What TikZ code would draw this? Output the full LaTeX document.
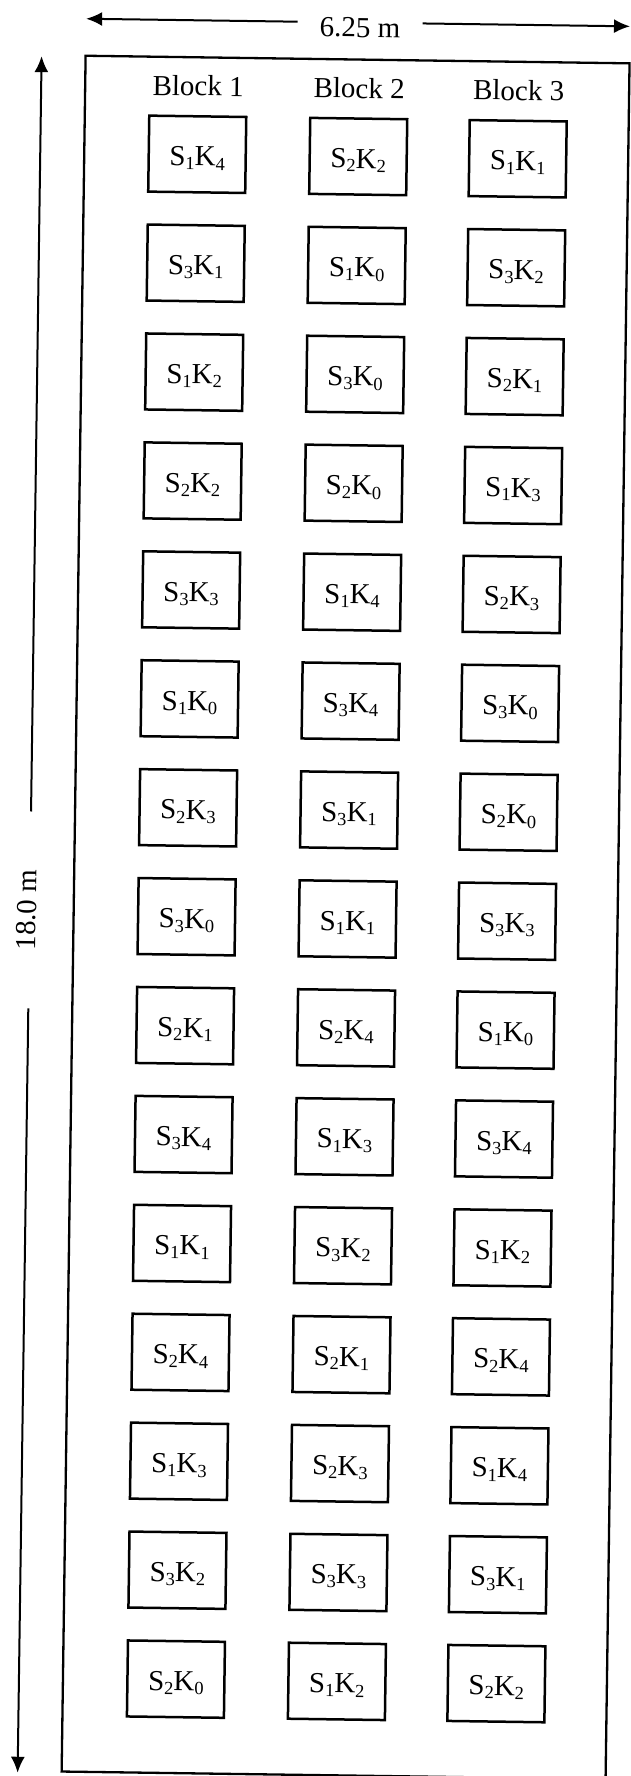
\documentclass[tikz,border=0pt]{standalone}
\usepackage{fontspec}
\setmainfont{Liberation Serif}
\usetikzlibrary{arrows.meta}
\newcommand\plotlab[2]{S\raisebox{-4pt}{\fontsize{18.5}{19}\selectfont #1}K\raisebox{-4pt}{\fontsize{18.5}{19}\selectfont #2}}
\begin{document}
\begin{tikzpicture}[x=1pt,y=-1pt,
  plotbox/.style={draw, line width=2.5pt, minimum width=97pt, minimum height=76pt,
    inner sep=0pt, text height=23pt, text depth=0pt,
    font=\fontsize{29}{33}\selectfont, transform shape},
  blk/.style={anchor=base, inner sep=0pt, font=\fontsize{29}{33}\selectfont, transform shape},
  dim/.style={line width=2pt, -{Latex[length=16pt,width=14pt]}},
  lbl/.style={font=\fontsize{29}{33}\selectfont, inner ysep=0pt, transform shape},
  frame/.style={line width=2.3pt}]
\useasboundingbox[fill=white] (0,0) rectangle (630,1776);
\begin{scope}[rotate around={-0.8:(315,888)}]
  % field outline
  \draw[frame] (74,59) rectangle (618,1775);
  % width dimension
  \coordinate (wA) at (74,22);
  \coordinate (wB) at (618,22);
  \node[lbl, anchor=base, inner xsep=22pt] (wl) at (348,36.5) {6.25 m};
  \draw[dim] (wl.west |- wA) -- (wA);
  \draw[dim] (wl.east |- wB) -- (wB);
  % length dimension
  \coordinate (hA) at (30,60);
  \coordinate (hB) at (30,1777);
  \node[lbl, rotate=90, inner xsep=58pt] (hl) at (27,914) {18.0 m};
  \draw[dim] (hl.east -| hA) -- (hA);
  \draw[dim] (hl.west -| hB) -- (hB);
  % block headings
  \node[blk] (b1) at (187,97.5) {Block 1};
  \node[blk] (b2) at (348,97.5) {Block 2};
  \node[blk] (b3) at (507.5,97.5) {Block 3};
  % plots
  \foreach \r/\sa/\ka/\sb/\kb/\sc/\kc in {
    1/1/4/2/2/1/1,
    2/3/1/1/0/3/2,
    3/1/2/3/0/2/1,
    4/2/2/2/0/1/3,
    5/3/3/1/4/2/3,
    6/1/0/3/4/3/0,
    7/2/3/3/1/2/0,
    8/3/0/1/1/3/3,
    9/2/1/2/4/1/0,
    10/3/4/1/3/3/4,
    11/1/1/3/2/1/2,
    12/2/4/2/1/2/4,
    13/1/3/2/3/1/4,
    14/3/2/3/3/3/1,
    15/2/0/1/2/2/2} {
    \pgfmathsetmacro\yy{156+(\r-1)*108.93}
    \node[plotbox] (p\r-1) at (187,\yy) {\plotlab{\sa}{\ka}};
    \node[plotbox] (p\r-2) at (348,\yy) {\plotlab{\sb}{\kb}};
    \node[plotbox] (p\r-3) at (507.5,\yy) {\plotlab{\sc}{\kc}};
  }
\end{scope}
\end{tikzpicture}
\end{document}
